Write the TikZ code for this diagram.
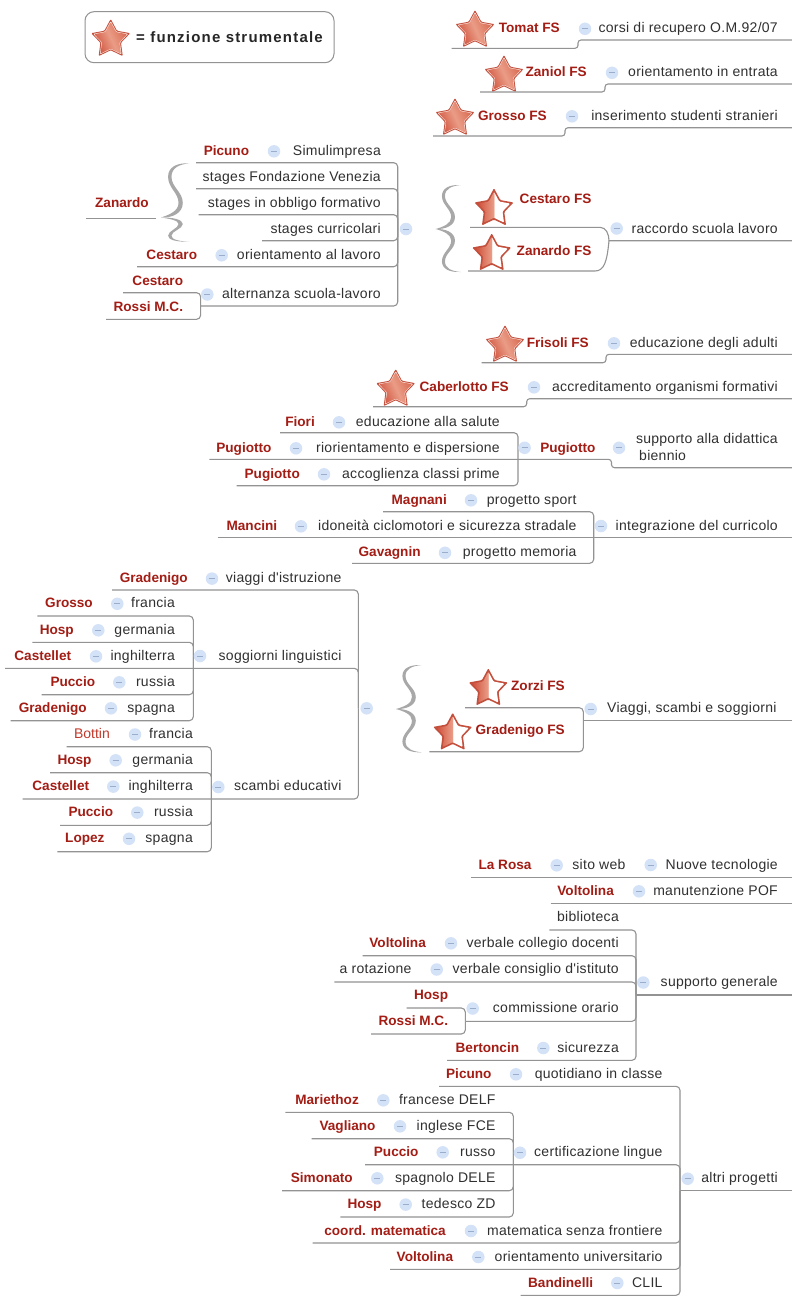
\documentclass[tikz,border=0pt]{standalone}
\usepackage{fontspec}
\setmainfont{Liberation Sans}
\newfontfamily\legfont[LetterSpace=8]{Liberation Sans}
\newfontfamily\labfont[LetterSpace=2]{Liberation Sans}
\usetikzlibrary{shapes.geometric}
\definecolor{linec}{HTML}{939393}
\definecolor{redc}{HTML}{A31D15}
\definecolor{redl}{HTML}{C0392B}
\definecolor{textc}{HTML}{303030}
\definecolor{icof}{HTML}{D4E2F8}
\definecolor{icom}{HTML}{9AAECB}
\definecolor{brc}{HTML}{A8A8A8}
\definecolor{starrim}{HTML}{C34F3D}
\definecolor{starpale}{HTML}{F8DCD3}
\definecolor{stara}{HTML}{CE4F3A}
\definecolor{starb}{HTML}{EA9C86}
\definecolor{starc}{HTML}{D8654D}
\pgfdeclarehorizontalshading{fsshade}{100bp}{color(0bp)=(stara);color(22bp)=(stara);color(50bp)=(starb);color(78bp)=(starc);color(100bp)=(starc)}
\pgfdeclarehorizontalshading{halfshade}{100bp}{color(0bp)=(stara);color(25bp)=(stara);color(49.5bp)=(starb);color(50bp)=(white);color(72bp)=(white);color(100bp)=(starpale)}
\tikzset{
  conn/.style={draw=linec,line width=1.1pt,rounded corners=4pt},
  stepconn/.style={draw=linec,line width=1.1pt,rounded corners=3pt},
  lab/.style={anchor=base east,inner sep=0pt,yshift=-5.3pt,text=textc,font=\fontsize{14}{16}\selectfont\labfont},
  who/.style={anchor=base east,inner sep=0pt,yshift=-5.3pt,text=redc,font=\fontsize{13.6}{16}\selectfont\bfseries},
  whoplain/.style={anchor=base east,inner sep=0pt,yshift=-5.3pt,text=redl,font=\fontsize{14}{16}\selectfont},
  icn/.style={circle,inner sep=0pt,minimum size=12.5pt,fill=icof,
    path picture={\draw[icom,line width=0.8pt] (-3,0)--(3,0);}},
  starbase/.style={star,star points=5,star point ratio=1.9,inner sep=0pt,rounded corners=1pt},
  legendbox/.style={draw=linec,line width=1pt,rounded corners=9pt,minimum width=249pt,minimum height=51pt,inner sep=0pt},
  legendtext/.style={anchor=west,inner sep=0pt,text=black!85,font=\fontsize{15}{17}\selectfont\legfont\bfseries},
}
\newcommand\lab[4]{\node[lab] (#1) at (#2,#3) {#4};}
\newcommand\who[4]{\node[who] (#1) at (#2,#3) {#4};}
\newcommand\ico[3]{\node[icn] (#1) at (#2,#3) {};}
\newcommand\row[7]{% id, name right, y, name, icon x, text right, text
  \node[who] (#1n) at (#2,#3) {#4};
  \node[icn] (#1i) at (#5,#3+1.3) {};
  \node[lab] (#1t) at (#6,#3) {#7};}
\newcommand\fsstar[3]{%
  \node[starbase,minimum size=41pt,fill=starrim] (#1) at (#2,#3) {};
  \node[starbase,minimum size=37pt,fill=starpale] at (#2,#3) {};
  \node[starbase,minimum size=34.5pt,shading=fsshade,shading angle=25] at (#2,#3) {};}
\newcommand\halfstar[3]{%
  \node[starbase,minimum size=41pt,fill=starrim] (#1) at (#2,#3) {};
  \node[starbase,minimum size=34pt,shading=halfshade] at (#2,#3) {};}
\newcommand\branch[5]{%
  \coordinate (#1s) at (#2,#3);
  \coordinate (#1e) at (#4,#5);
  \draw[conn] (#1s) -| (#1e);}
\newcommand\flatline[4]{%
  \coordinate (#1s) at (#2,#4);
  \coordinate (#1e) at (#3,#4);
  \draw[conn] (#1s) -- (#1e);}
\newcommand\stepline[6]{% id x1 y1 xb y2 x2
  \coordinate (#1s) at (#2,#3);
  \coordinate (#1e) at (#6,#5);
  \draw[stepconn] (#1s) -- (#4,#3) -- (#4,#5) -- (#1e);}
\newcommand\bracehalf{(0,0) .. controls (.3,.05) and (.62,.12) .. (.62,.27) .. controls (.62,.45) and (.25,.55) .. (.25,.75) .. controls (.25,.93) and (.55,1.01) .. (1,1) .. controls (.65,.98) and (.37,.92) .. (.37,.75) .. controls (.37,.56) and (.77,.47) .. (.77,.27) .. controls (.77,.08) and (.4,-.01) .. (0,0) -- cycle}
\newcommand\mybrace[5]{% xtip xend ytop ymid ybot
  \pgfmathsetmacro\bw{#2-#1}
  \pgfmathsetmacro\bu{#4-#3}
  \pgfmathsetmacro\bd{#5-#4}
  \begin{scope}[shift={(#1,#4)},xscale=\bw,yscale=-\bu]
    \fill[brc] \bracehalf;
  \end{scope}
  \begin{scope}[shift={(#1,#4)},xscale=\bw,yscale=\bd]
    \fill[brc] \bracehalf;
  \end{scope}}
\begin{document}
\begin{tikzpicture}[x=1pt,y=-1pt]
\useasboundingbox (0,0) rectangle (792,1299);
\fill[white] (0,0) rectangle (792,1299);

% legend
\node[legendbox] (legend) at (209.5,37.2) {};
\fsstar{legstar}{110.7}{39.5}
\node[legendtext] (legtxt) at (136,37.5) {= funzione strumentale};

% top FS rows
\fsstar{s1}{475}{30.5}
\row{a1}{560}{27.5}{Tomat FS}{585}{778}{corsi di recupero O.M.92/07}
\stepline{l1}{451.7}{48.3}{578}{40}{792}
\fsstar{s2}{504}{75.5}
\row{a2}{587}{71.5}{Zaniol FS}{612}{778}{orientamento in entrata}
\stepline{l2}{480}{92}{605}{84}{792}
\fsstar{s3}{455}{118.5}
\row{a3}{547}{115}{Grosso FS}{572}{778}{inserimento studenti stranieri}
\stepline{l3}{433}{136}{565}{127.7}{792}

% Simulimpresa group
\row{b1}{249.3}{150}{Picuno}{274}{381}{Simulimpresa}
\branch{lb1}{196}{162.7}{397.7}{229}
\lab{b2}{381}{176}{stages Fondazione Venezia}
\branch{lb2}{196}{188.7}{397.7}{229}
\lab{b3}{381}{202}{stages in obbligo formativo}
\branch{lb3}{198.7}{214.7}{397.7}{229}
\lab{b4}{381}{228}{stages curricolari}
\branch{lb4}{262}{240.7}{397.7}{229}
\row{b5}{197.3}{254}{Cestaro}{221.7}{381}{orientamento al lavoro}
\branch{lb5}{137}{266.7}{397.7}{229}
\who{b6}{183.3}{280}{Cestaro}
\branch{lb6}{123}{292.7}{200.6}{306}
\who{b7}{183.3}{306}{Rossi M.C.}
\branch{lb7}{106}{319.3}{200.6}{306}
\ico{b8i}{207.3}{294.5}
\lab{b8}{381}{293.5}{alternanza scuola-lavoro}
\branch{lb8}{200.6}{306}{397.7}{229}
\who{b9}{149}{201.7}{Zanardo}
\flatline{lb9}{86}{156}{218.3}
\mybrace{161}{189.3}{163.3}{217.5}{241.7}
\ico{b0i}{406}{229}
\mybrace{435.7}{460.7}{185}{229}{272}

% raccordo
\halfstar{s4}{494}{208.8}
\who{c1}{591.7}{198}{Cestaro FS}
\halfstar{s5}{491.7}{253.8}
\who{c2}{591.7}{250}{Zanardo FS}
\ico{c3i}{616.7}{228.5}
\lab{c3}{778}{228}{raccordo scuola lavoro}
\coordinate (r1s) at (470,227.3);
\coordinate (r2s) at (468,271);
\coordinate (rj) at (609,240.7);
\coordinate (rp) at (792,240.7);
\draw[draw=linec,line width=1.1pt] (r1s) -- (600,227.3) .. controls (606,227.3) and (609,234) .. (rj) -- (rp);
\draw[draw=linec,line width=1.1pt] (r2s) -- (595,271) .. controls (604,271) and (607,262) .. (rj);

% Frisoli, Caberlotto
\fsstar{s6}{505}{345.5}
\row{d1}{589}{342}{Frisoli FS}{614}{778}{educazione degli adulti}
\stepline{ld1}{481.7}{362.7}{606}{354.3}{792}
\fsstar{s7}{395.7}{389.5}
\row{d2}{509}{386}{Caberlotto FS}{534}{778}{accreditamento organismi formativi}
\stepline{ld2}{373}{406.7}{526.7}{398.7}{792}

% Pugiotto group
\row{e1}{315}{421}{Fiori}{339}{500}{educazione alla salute}
\branch{le1}{280}{432.7}{518}{459.3}
\row{e2}{271.7}{447}{Pugiotto}{296}{500}{riorientamento e dispersione}
\row{e3}{300}{473}{Pugiotto}{324}{500}{accoglienza classi prime}
\branch{le3}{236.6}{485.7}{518}{459.3}
\ico{e4i}{524.6}{447.8}
\who{e4}{595.6}{447}{Pugiotto}
\ico{e5i}{619}{447.8}
\lab{e5}{778}{438}{supporto alla didattica}
\node[lab,anchor=base west] (e6) at (639,455) {biennio};
\stepline{le2}{209.4}{459.3}{611.5}{467.7}{792}

% integrazione
\row{f1}{447}{499}{Magnani}{471}{576.7}{progetto sport}
\branch{lf1}{383}{511.7}{593.7}{537.7}
\row{f2}{277.4}{525}{Mancini}{301}{576.7}{idoneità ciclomotori e sicurezza stradale}
\flatline{lf2}{217.7}{792}{537.7}
\row{f3}{420.8}{551.5}{Gavagnin}{445}{576.7}{progetto memoria}
\branch{lf3}{352}{563.3}{593.7}{537.7}
\ico{f4i}{601}{526}
\lab{f4}{778}{525.5}{integrazione del curricolo}

% viaggi
\row{g1}{188}{577.3}{Gradenigo}{212}{341.7}{viaggi d'istruzione}
\branch{lg1}{112}{590}{358.3}{708.3}
\row{g2}{93}{602.5}{Grosso}{117.3}{175}{francia}
\branch{lg2}{37.3}{616}{193.3}{668.3}
\row{g3}{74}{629}{Hosp}{98.3}{175}{germania}
\branch{lg3}{32.3}{642.3}{193.3}{668.3}
\row{g4}{71.3}{655}{Castellet}{96}{175}{inghilterra}
\branch{lg4}{5}{668.3}{358.3}{708.3}
\row{g5}{95.3}{681}{Puccio}{119.3}{175}{russia}
\branch{lg5}{41.7}{694.7}{193.3}{668.3}
\row{g6}{87}{707}{Gradenigo}{111}{175}{spagna}
\branch{lg6}{10.7}{720.7}{193.3}{668.3}
\ico{g7i}{200}{656}
\lab{g7}{341.7}{655}{soggiorni linguistici}
\node[whoplain] (h1n) at (110,733) {Bottin};
\ico{h1i}{135}{734.5}
\lab{h1t}{193}{733}{francia}
\branch{lh1}{66.7}{746.7}{211.3}{799}
\row{h2}{91.7}{759}{Hosp}{115.7}{193}{germania}
\branch{lh2}{50}{772.7}{211.3}{799}
\row{h3}{89.3}{785.3}{Castellet}{113.3}{193}{inghilterra}
\branch{lh3}{22.7}{799}{358.3}{708.3}
\row{h4}{113.3}{811.3}{Puccio}{137.3}{193}{russia}
\branch{lh4}{60}{825.3}{211.3}{799}
\row{h5}{104.7}{837.5}{Lopez}{129}{193}{spagna}
\branch{lh5}{57.3}{851.7}{211.3}{799}
\ico{h6i}{218.3}{787}
\lab{h6}{341.7}{785.5}{scambi educativi}
\ico{g0i}{366.7}{708.3}
\mybrace{396}{421.7}{665}{709}{752.3}

% Zorzi, Gradenigo
\halfstar{s8}{488.3}{688.8}
\who{i1}{565}{685}{Zorzi FS}
\halfstar{s9}{452.7}{733.2}
\who{i2}{565}{729.3}{Gradenigo FS}
\branch{li1}{465}{707.7}{583.3}{720.3}
\branch{li2}{429.3}{751.7}{583.3}{720.3}
\flatline{li3}{583.3}{792}{720.3}
\ico{i3i}{590.7}{709}
\lab{i3}{776.7}{707.5}{Viaggi, scambi e soggiorni}

% tecnologie
\row{j1}{531.7}{864}{La Rosa}{556.7}{625.7}{sito web}
\ico{j2i}{650.7}{865}
\lab{j2}{778}{864}{Nuove tecnologie}
\flatline{lj1}{471}{792}{877.3}
\row{j3}{614}{890}{Voltolina}{639}{778}{manutenzione POF}
\flatline{lj3}{550.7}{792}{903.3}

% supporto generale
\lab{k1}{619}{916}{biblioteca}
\branch{lk1}{549.3}{930}{636}{995}
\row{k2}{426}{942}{Voltolina}{451}{619}{verbale collegio docenti}
\branch{lk2}{362.7}{955.7}{636}{995}
\lab{k3n}{411.7}{968}{a rotazione}
\ico{k3i}{436.7}{969.5}
\lab{k3}{619}{968}{verbale consiglio d'istituto}
\branch{lk3}{334.3}{982}{636}{995}
\who{k4}{448.3}{994.3}{Hosp}
\branch{lk4}{406.7}{1008}{465.3}{1021.3}
\who{k5}{448.3}{1020}{Rossi M.C.}
\branch{lk5}{371}{1034}{465.3}{1021.3}
\ico{k6i}{472.7}{1008.5}
\lab{k6}{619}{1007.5}{commissione orario}
\branch{lk6}{465.3}{1021.3}{636}{995}
\row{k7}{519.3}{1046.7}{Bertoncin}{543.3}{619}{sicurezza}
\branch{lk7}{447}{1060.3}{636}{995}
\ico{k8i}{643.3}{982.5}
\lab{k8}{778}{981}{supporto generale}
\flatline{lk8}{636}{792}{995}

% altri progetti
\row{m1}{491.7}{1073}{Picuno}{516}{662.7}{quotidiano in classe}
\branch{lm1}{439}{1086.3}{680}{1190.7}
\row{m2}{359}{1099}{Mariethoz}{383.3}{495.7}{francese DELF}
\branch{lm2}{285.3}{1112.3}{513.3}{1164.7}
\row{m3}{375.7}{1125}{Vagliano}{400}{495.7}{inglese FCE}
\branch{lm3}{311.7}{1138.7}{513.3}{1164.7}
\row{m4}{418.7}{1151}{Puccio}{442.7}{495.7}{russo}
\branch{lm4}{365}{1164.7}{680}{1190.7}
\row{m5}{353}{1177}{Simonato}{377.3}{495.7}{spagnolo DELE}
\branch{lm5}{282}{1190.7}{513.3}{1164.7}
\row{m6}{381.7}{1203.3}{Hosp}{405.7}{495.7}{tedesco ZD}
\branch{lm6}{340.3}{1217}{513.3}{1164.7}
\ico{m7i}{520}{1152.7}
\lab{m7}{662.7}{1151}{certificazione lingue}
\row{m8}{446}{1229.7}{coord. matematica}{471}{662.7}{matematica senza frontiere}
\branch{lm8}{312.7}{1243}{680}{1190.7}
\row{m9}{453.3}{1255.7}{Voltolina}{478.3}{662.7}{orientamento universitario}
\branch{lm9}{390}{1269.3}{680}{1190.7}
\row{m10}{593.3}{1281.7}{Bandinelli}{617.3}{662.7}{CLIL}
\branch{lm10}{520.7}{1295.3}{680}{1190.7}
\ico{m11i}{687.7}{1178.7}
\lab{m11}{778}{1177.5}{altri progetti}
\flatline{lm11}{680}{792}{1190.7}
\end{tikzpicture}
\end{document}
